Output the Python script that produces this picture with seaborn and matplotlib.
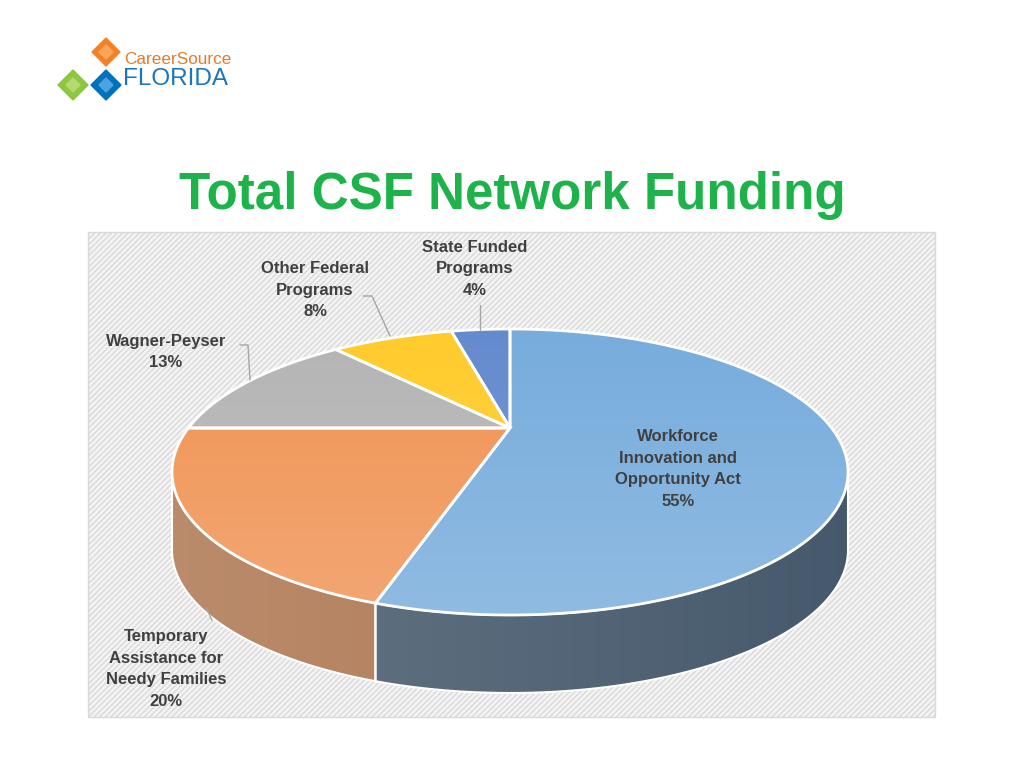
import numpy as np
import matplotlib
matplotlib.use("Agg")
import matplotlib.pyplot as plt
import seaborn as sns
from matplotlib.patches import Polygon, Rectangle
from matplotlib.colors import LinearSegmentedColormap, to_rgb

sns.set_theme(style="white")
plt.rcParams["hatch.color"] = "#e2e2e2"

categories = ["Workforce\nInnovation and\nOpportunity Act", "Temporary\nAssistance for\nNeedy Families",
              "Wagner-Peyser", "Other Federal\nPrograms", "State Funded\nPrograms"]
shares = [55, 20, 13, 8, 4]
top_colors = ["#5b9bd5", "#ed7d31", "#a5a5a5", "#ffc000", "#4472c4"]
side_colors = ["#3e5266", "#a86d45", "#7a7a7a", "#b08a10", "#2f4f8a"]

fig = plt.figure(figsize=(10.24, 7.68), dpi=100)
ax = fig.add_axes([0, 0, 1, 1])
ax.set_xlim(0, 1024); ax.set_ylim(768, 0); ax.axis("off")

ax.add_patch(Rectangle((88, 232), 847, 485, facecolor="#f4f4f4", edgecolor="#d9d9d9",
                       hatch="//////", lw=1, zorder=0))

ax.text(512, 195, "Total CSF Network Funding", ha="center", va="center", color="#1db34a",
        fontsize=36.8, fontweight="bold", family="Liberation Sans")

cx, cy, rx, ry = 510, 472, 338, 143
vx, vy = 510, 428
v = (cy - vy) / ry
depth = 78

def ray_pt(phi):
    d = np.array([np.cos(phi), np.sin(phi)])
    b = v * d[1]
    s = -b + np.sqrt(b*b - (v*v - 1))
    return np.array([0, v]) + s*d

def scr(p):
    return cx + rx*p[0], cy - ry*p[1]

def grad(poly, c1, c2, horizontal=False, z=1):
    cmap = LinearSegmentedColormap.from_list("g", [c1, c2])
    g = np.linspace(0, 1, 256)
    arr = g[None, :] if horizontal else g[:, None]
    im = ax.imshow(arr, cmap=cmap, extent=(0, 1024, 768, 0), aspect="auto", zorder=z)
    im.set_clip_path(poly)

def lighten(c, f):
    r = np.array(to_rgb(c)); return tuple(r + (1-r)*f)

cum = np.cumsum([0] + shares) / sum(shares)
for i in range(len(shares)):
    phis = np.linspace(np.pi/2 - 2*np.pi*cum[i], np.pi/2 - 2*np.pi*cum[i+1], 400)
    P = np.array([ray_pt(f) for f in phis])
    front = P[P[:, 1] <= 0]
    if len(front) >= 2:
        top = np.array([scr(p) for p in front])
        bot = top + [0, depth]
        poly = Polygon(np.vstack([top, bot[::-1]]), closed=True, facecolor="none",
                       edgecolor="white", lw=1.5, zorder=2)
        ax.add_patch(poly)
        grad(poly, lighten(side_colors[i], 0.25), side_colors[i], horizontal=True, z=1)

for i in range(len(shares)):
    phis = np.linspace(np.pi/2 - 2*np.pi*cum[i], np.pi/2 - 2*np.pi*cum[i+1], 400)
    pts = np.vstack([[vx, vy], [scr(ray_pt(f)) for f in phis]])
    poly = Polygon(pts, closed=True, facecolor="none", edgecolor="white", lw=2, zorder=4)
    ax.add_patch(poly)
    grad(poly, top_colors[i], lighten(top_colors[i], 0.4), z=3)

fs = dict(fontsize=12, fontweight="bold", color="#404040", ha="center", va="center",
          family="Liberation Sans", linespacing=1.55)
ax.text(678, 469, f"{categories[0]}\n{shares[0]}%", **fs, zorder=6)
ax.text(166, 669, f"{categories[1]}\n{shares[1]}%", **fs, zorder=6)
ax.text(166, 352, f"{categories[2]}\n{shares[2]}%", **fs, zorder=6)
ax.text(315, 290, f"{categories[3]}\n{shares[3]}%", **fs, zorder=6)
ax.text(475, 269, f"{categories[4]}\n{shares[4]}%", **fs, zorder=6)
lc = dict(color="#a6a6a6", lw=1, zorder=5)
ax.plot([206, 212], [608, 620], **lc)
ax.plot([240, 248, 250], [345, 345, 380], **lc)
ax.plot([363, 372, 390], [296, 296, 336], **lc)
ax.plot([480, 480], [305, 330], **lc)

def sq(x, y, s, c):
    corners = np.array([[0, -s], [s, 0], [0, s], [-s, 0]])
    ax.add_patch(Polygon(corners + [x, y], closed=True, color=c, zorder=6))
sq(106, 52, 14, "#f58025"); sq(106, 52, 7, "#f9a65a")
sq(73, 85, 15, "#8dc63f"); sq(73, 85, 7, "#b5d96f")
sq(106, 85, 15, "#0072bc"); sq(106, 85, 7, "#4fa3dc")
ax.text(124, 59, "CareerSource", fontsize=12.3, color="#e8792b", va="center",
        family="Liberation Sans", zorder=6)
ax.text(123, 79, "FLORIDA", fontsize=17.5, color="#1b75bb", va="center",
        family="Liberation Sans", zorder=6)

fig.savefig("out.png", dpi=100)
